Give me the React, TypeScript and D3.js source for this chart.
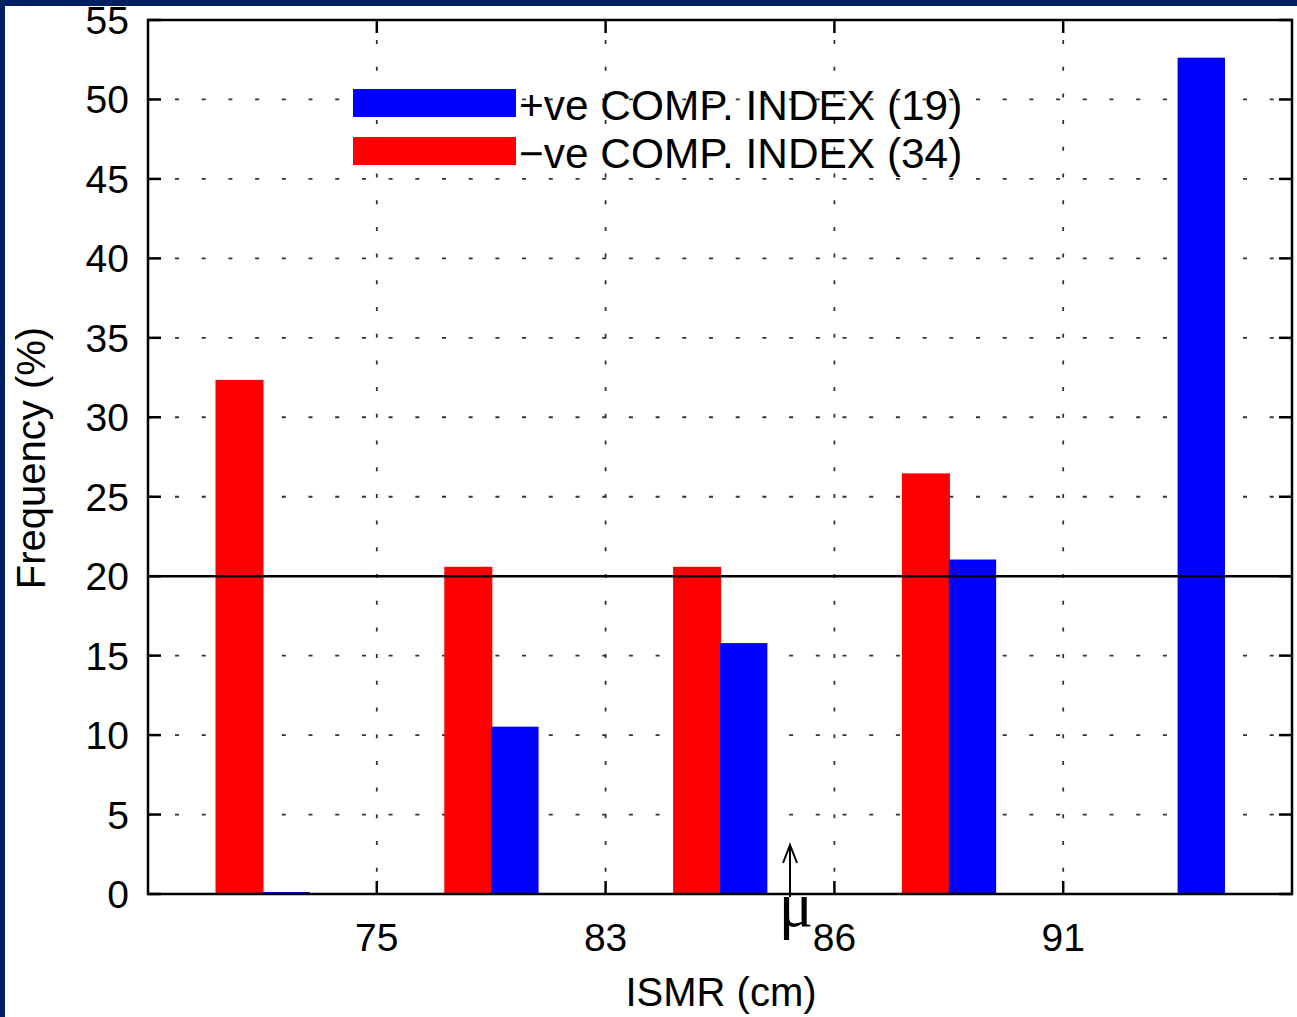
import React from "react";
import * as d3 from "d3";

const categories = [1, 2, 3, 4, 5];
const negValues = [32.35, 20.59, 20.59, 26.47, 0];
const posValues = [0, 10.53, 15.79, 21.05, 52.63];
const xTickPos = [1.5, 2.5, 3.5, 4.5];
const xTickLabels = ["75", "83", "86", "91"];
const yTicks = [0, 5, 10, 15, 20, 25, 30, 35, 40, 45, 50, 55];
const refLine = 20;
const muPos = 3.306;
const legendItems = [
  { label: "+ve COMP. INDEX (19)", color: "#0000ff" },
  { label: "\u2212ve COMP. INDEX (34)", color: "#ff0000" },
];

const W = 1297;
const H = 1017;
const L = 148, R = 1292, T = 20, B = 894;
const FONT = "'Liberation Sans', Arial, Helvetica, sans-serif";

export default function App() {
  const x = d3.scaleLinear().domain([0.5, 5.5]).range([L, R]);
  const y = d3.scaleLinear().domain([0, 55]).range([B, T]);
  const tick = 13;
  const gridDash = "4 22.7";
  const gridColor = "#333";

  return (
    <svg width={W} height={H} style={{ position: "absolute", left: 0, top: 0 }}>
      <rect x={0} y={0} width={W} height={H} fill="#00205f" />
      <rect x={5} y={6} width={W - 5} height={H - 6} fill="#ffffff" />

      {/* grid */}
      {yTicks.filter((t) => t > 0 && t < 55 && t !== refLine).map((t) => (
        <line key={"gy" + t} x1={L} x2={R} y1={y(t)} y2={y(t)} stroke={gridColor}
          strokeWidth={1.8} strokeDasharray={gridDash} strokeDashoffset={-27} />
      ))}
      {xTickPos.map((p) => (
        <line key={"gx" + p} x1={x(p)} x2={x(p)} y1={T} y2={B} stroke={gridColor}
          strokeWidth={1.8} strokeDasharray={gridDash} strokeDashoffset={-20} />
      ))}

      {/* bars */}
      {categories.map((c, i) => (
        negValues[i] > 0 ? (
          <rect key={"n" + c} x={x(c - 0.205)} width={x(c + 0.005) - x(c - 0.205)} y={y(negValues[i])}
            height={y(0) - y(negValues[i])} fill="#ff0000" />
        ) : null
      ))}
      {categories.map((c, i) => (
        <rect key={"p" + c} x={x(c)} width={x(c + 0.207) - x(c)} y={y(posValues[i]) - (posValues[i] === 0 ? 2 : 0)}
          height={Math.max(y(0) - y(posValues[i]), 3)} fill="#0000ff" />
      ))}

      {/* reference line */}
      <line x1={L} x2={R} y1={y(refLine)} y2={y(refLine)} stroke="#000" strokeWidth={2.5} />

      {/* axes box */}
      <rect x={L} y={T} width={R - L} height={B - T} fill="none" stroke="#000" strokeWidth={2.5} />
      {yTicks.map((t) => (
        <g key={"ty" + t}>
          <line x1={L} x2={L + tick} y1={y(t)} y2={y(t)} stroke="#000" strokeWidth={2.5} />
          <line x1={R} x2={R - tick} y1={y(t)} y2={y(t)} stroke="#000" strokeWidth={2.5} />
          <text x={129} y={y(t) + 14} textAnchor="end" fontFamily={FONT} fontSize={39} fill="#000">{t}</text>
        </g>
      ))}
      {xTickPos.map((p, i) => (
        <g key={"tx" + p}>
          <line x1={x(p)} x2={x(p)} y1={B} y2={B - tick} stroke="#000" strokeWidth={2.5} />
          <line x1={x(p)} x2={x(p)} y1={T} y2={T + tick} stroke="#000" strokeWidth={2.5} />
          <text x={x(p)} y={951} textAnchor="middle" fontFamily={FONT} fontSize={39} fill="#000">{xTickLabels[i]}</text>
        </g>
      ))}

      {/* mu arrow */}
      <g stroke="#000" strokeWidth={2} fill="none">
        <line x1={x(muPos)} x2={x(muPos)} y1={897} y2={845} />
        <polyline points={`${x(muPos) - 7},${863} ${x(muPos)},${845} ${x(muPos) + 7},${863}`} />
      </g>
      <text x={x(muPos) + 6} y={926} textAnchor="middle" fontFamily="'Liberation Serif', 'Times New Roman', serif" fontSize={64} fill="#000">μ</text>

      {/* axis labels */}
      <text x={(L + R) / 2 + 1} y={1006} textAnchor="middle" fontFamily={FONT} fontSize={40} fill="#000">ISMR (cm)</text>
      <text transform={`translate(45,${458}) rotate(-90)`} textAnchor="middle" fontFamily={FONT} fontSize={40} fill="#000">Frequency (%)</text>

      {/* legend */}
      {legendItems.map((it, i) => (
        <g key={"lg" + i}>
          <rect x={353} y={89 + i * 48} width={163} height={28} fill={it.color} />
          <text x={519} y={120 + i * 48} fontFamily={FONT} fontSize={42.4} fill="#000">{it.label}</text>
        </g>
      ))}
    </svg>
  );
}
